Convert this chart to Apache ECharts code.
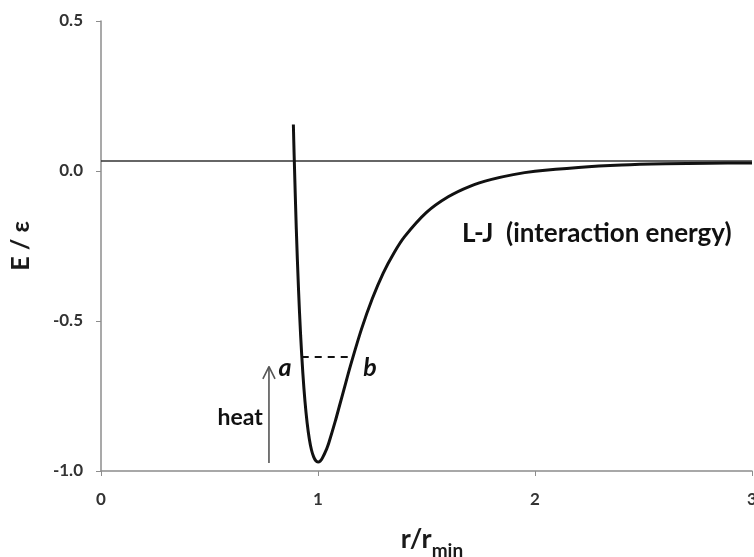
<!DOCTYPE html>
<html>
<head>
<meta charset="utf-8">
<script src="https://cdn.jsdelivr.net/npm/echarts@6/dist/echarts.min.js"></script>
<style>
  html, body { margin: 0; padding: 0; background: #fff; overflow: hidden; }
  #chart { width: 754px; height: 557px; }
</style>
</head>
<body>
<div id="chart"></div>
<script>
// Lennard-Jones interaction energy, reduced units (r / r_min, E / epsilon)
const rValues = [0.8865, 0.89, 0.9, 0.91, 0.92, 0.93, 0.94, 0.95, 0.96, 0.97, 0.98, 0.99, 1.0,
  1.01, 1.02, 1.04, 1.05, 1.08, 1.1, 1.12, 1.15, 1.2, 1.25, 1.3, 1.35, 1.4, 1.5, 1.6, 1.7,
  1.8, 1.9, 2.0, 2.2, 2.4, 2.6, 2.8, 3.0];
const energyValues = [0.155, 0.054, -0.193, -0.391, -0.549, -0.672, -0.768, -0.840, -0.893, -0.930,
  -0.953, -0.966, -0.970, -0.967, -0.957, -0.926, -0.906, -0.833, -0.780, -0.727, -0.648, -0.528,
  -0.426, -0.341, -0.273, -0.218, -0.138, -0.086, -0.051, -0.028, -0.012, -0.001, 0.012, 0.020,
  0.024, 0.026, 0.027];

// reference level of the separated pair
const baselineR = [0, 3];
const baselineE = [0.033, 0.033];

// vibrational level a-b
const levelR = [0.925, 1.163];
const levelE = [-0.62, -0.62];

// "heat" arrow shaft and head
const arrowShaftR = [0.774, 0.774];
const arrowShaftE = [-0.973, -0.652];
const arrowHeadR = [0.746, 0.774, 0.802];
const arrowHeadE = [-0.693, -0.652, -0.693];

// text annotations
const noteTexts = ['a', 'b', 'heat', 'L-J  (interaction energy)'];
const noteR = [0.848, 1.240, 0.641, 1.664];
const noteE = [-0.657, -0.657, -0.823, -0.21];

const xTicks = { min: 0, max: 3, interval: 1 };
const yTicks = { min: -1, max: 0.5, interval: 0.5 };

const pairs = (xs, ys) => xs.map((x, i) => [x, ys[i]]);
const FONT = 'Lato, "Open Sans", sans-serif';
const axisGray = '#8c8c8c';

const chart = echarts.init(document.getElementById('chart'), null, { renderer: 'canvas' });

const noteStyle = [
  { fontStyle: 'italic', fontWeight: 'bold', fontSize: 25, align: 'center' },
  { fontStyle: 'italic', fontWeight: 'bold', fontSize: 25, align: 'center' },
  { fontWeight: 'bold', fontSize: 23, align: 'center' },
  { fontWeight: 'bold', fontSize: 26, align: 'left' }
];

chart.setOption({
  animation: false,
  grid: { left: 101, right: 2, top: 21, bottom: 86, containLabel: false, outerBoundsMode: 'none' },
  xAxis: {
    type: 'value',
    min: xTicks.min, max: xTicks.max, interval: xTicks.interval,
    name: '{a|r/r}{b|min}',
    nameLocation: 'middle',
    nameGap: 55,
    nameTextStyle: {
      padding: [0, 0, 0, 11],
      rich: {
        a: { fontFamily: FONT, fontWeight: 'bold', fontSize: 27, color: '#1a1a1a', verticalAlign: 'bottom' },
        b: { fontFamily: FONT, fontWeight: 'bold', fontSize: 19, color: '#1a1a1a', verticalAlign: 'bottom', padding: [0, 0, -7, 0] }
      }
    },
    axisLine: { show: true, onZero: false, lineStyle: { color: axisGray, width: 1.5 } },
    axisTick: { show: true, inside: false, length: 5, lineStyle: { color: axisGray, width: 1 } },
    axisLabel: { margin: 20, fontFamily: FONT, fontWeight: 'bold', fontSize: 17, color: '#333' },
    splitLine: { show: false }
  },
  yAxis: {
    type: 'value',
    min: yTicks.min, max: yTicks.max, interval: yTicks.interval,
    name: 'E / ε',
    nameLocation: 'middle',
    nameRotate: 90,
    nameGap: 68,
    nameTextStyle: { fontFamily: FONT, fontWeight: 'bold', fontSize: 25, color: '#1a1a1a' },
    axisLine: { show: true, onZero: false, lineStyle: { color: axisGray, width: 1.5 } },
    axisTick: { show: true, inside: false, length: 5, lineStyle: { color: axisGray, width: 1 } },
    axisLabel: {
      margin: 18, fontFamily: FONT, fontWeight: 'bold', fontSize: 17, color: '#333',
      formatter: v => v.toFixed(1)
    },
    splitLine: { show: false }
  },
  series: [
    {
      name: 'baseline', type: 'line', data: pairs(baselineR, baselineE),
      symbol: 'none', silent: true,
      lineStyle: { color: '#333', width: 1.5 }
    },
    {
      name: 'L-J', type: 'line', data: pairs(rValues, energyValues),
      symbol: 'none', smooth: 0.3, silent: true,
      lineStyle: { color: '#111', width: 3 }
    },
    {
      name: 'level', type: 'line', data: pairs(levelR, levelE),
      symbol: 'none', silent: true,
      lineStyle: { color: '#111', width: 2, type: [7, 6] }
    },
    {
      name: 'arrow', type: 'line', data: pairs(arrowShaftR, arrowShaftE),
      symbol: 'none', silent: true,
      lineStyle: { color: '#555', width: 1.6 }
    },
    {
      name: 'arrowHead', type: 'line', data: pairs(arrowHeadR, arrowHeadE),
      symbol: 'none', silent: true,
      lineStyle: { color: '#555', width: 1.6 }
    },
    {
      name: 'notes', type: 'scatter', symbolSize: 0, silent: true,
      itemStyle: { color: '#111', opacity: 1 },
      data: noteTexts.map((t, i) => ({
        value: [noteR[i], noteE[i]],
        label: Object.assign({
          show: true, position: 'inside', formatter: t,
          fontFamily: FONT, color: '#111', verticalAlign: 'middle',
          textBorderWidth: 0, textBorderColor: 'transparent', opacity: 1
        }, noteStyle[i])
      }))
    }
  ]
});
</script>
</body>
</html>
